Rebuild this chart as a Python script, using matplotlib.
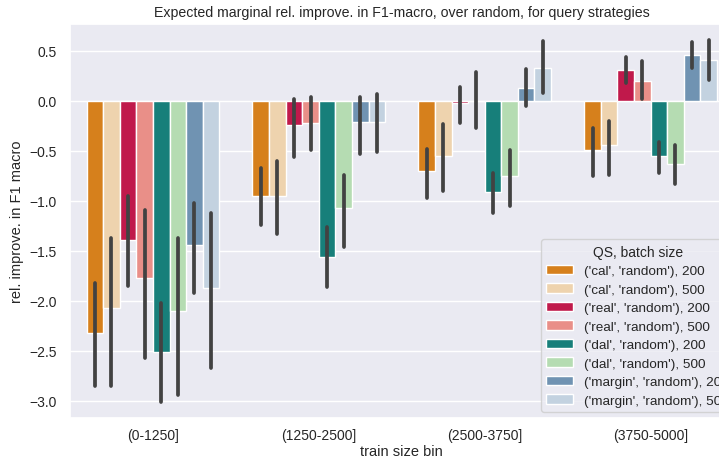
import matplotlib
matplotlib.use("Agg")
import matplotlib.pyplot as plt
import numpy as np
import seaborn as sns

sns.set_theme(style="darkgrid")
plt.rcParams['font.family'] = ['Liberation Sans', 'DejaVu Sans']

bins = ["(0-1250]", "(1250-2500]", "(2500-3750]", "(3750-5000]"]
series = ["('cal', 'random'), 200", "('cal', 'random'), 500",
          "('real', 'random'), 200", "('real', 'random'), 500",
          "('dal', 'random'), 200", "('dal', 'random'), 500",
          "('margin', 'random'), 200", "('margin', 'random'), 500"]
colors = ["#d6801c", "#eed3ae", "#c0194b", "#e98f88",
          "#177f7a", "#b5dcb2", "#7093b2", "#c3d2e0"]

# mean values per series (rows) for each bin (columns)
means = [
    [-2.325, -0.95, -0.70, -0.49],
    [-2.07, -0.95, -0.55, -0.445],
    [-1.39, -0.24, -0.02, 0.31],
    [-1.77, -0.22, -0.005, 0.20],
    [-2.51, -1.56, -0.91, -0.55],
    [-2.10, -1.07, -0.75, -0.63],
    [-1.44, -0.21, 0.125, 0.46],
    [-1.87, -0.21, 0.33, 0.41],
]
ci_low = [
    [-2.85, -1.24, -0.97, -0.75],
    [-2.85, -1.335, -0.90, -0.745],
    [-1.85, -0.56, -0.225, 0.18],
    [-2.575, -0.495, -0.275, 0.015],
    [-3.01, -1.86, -1.125, -0.725],
    [-2.945, -1.46, -1.05, -0.83],
    [-1.925, -0.535, -0.05, 0.33],
    [-2.67, -0.51, 0.075, 0.21],
]
ci_high = [
    [-1.82, -0.675, -0.485, -0.275],
    [-1.37, -0.60, -0.23, -0.20],
    [-0.95, 0.015, 0.14, 0.44],
    [-1.09, 0.04, 0.29, 0.40],
    [-2.02, -1.26, -0.72, -0.41],
    [-1.375, -0.74, -0.495, -0.44],
    [-1.02, 0.04, 0.315, 0.59],
    [-1.125, 0.07, 0.60, 0.605],
]

W, H = 719, 464
fig = plt.figure(figsize=(W / 100, H / 100), dpi=100)
ax = fig.add_axes([70 / W, 1 - 419 / H, (733.5 - 70) / W, (419 - 25) / H])

n = len(series)
bw = 0.8 / n
x = np.arange(len(bins))
for i in range(n):
    pos = x - 0.4 + bw * (i + 0.5)
    ax.bar(pos, means[i], width=bw, color=colors[i], edgecolor="white",
           linewidth=1.0, label=series[i], zorder=2)
    ax.vlines(pos, ci_low[i], ci_high[i], color="#424242", linewidth=2.7,
              zorder=3, capstyle="round")

ax.set_xlim(-0.5, len(bins) - 0.5)
ax.set_ylim(-3.175, 0.765)
ax.set_xticks(x)
ax.set_xticklabels(bins)
ax.set_yticks([-3.0, -2.5, -2.0, -1.5, -1.0, -0.5, 0.0, 0.5])
ax.grid(False, axis="x")
ax.tick_params(labelsize=10)
ax.tick_params(axis="x", pad=1)
ax.set_title("Expected marginal rel. improve. in F1-macro, over random, for query strategies", fontsize=10.2)
ax.set_xlabel("train size bin", fontsize=10.5, labelpad=2)
ax.set_ylabel("rel. improve. in F1 macro", fontsize=10.5)
ax.legend(title="QS, batch size", loc="lower left", borderaxespad=0,
          bbox_to_anchor=(541 / W, 51 / H), bbox_transform=fig.transFigure,
          fontsize=9.7, title_fontsize=10, labelspacing=0.45)

fig.savefig("out.png", dpi=100)
